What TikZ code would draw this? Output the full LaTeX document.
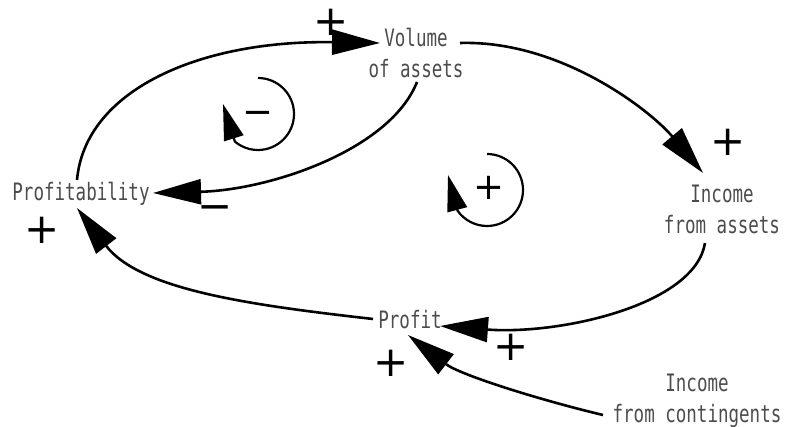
\documentclass[tikz,border=0pt]{standalone}
\usepackage{fontspec}
\usepackage{graphicx}
\usetikzlibrary{arrows.meta}
\newfontfamily\dotfont{DejaVu Sans Mono}
\newfontfamily\signfont{DejaVu Sans}
\newcommand\dottext[1]{\scalebox{0.73}[1]{\begin{tabular}{@{}c@{}}#1\end{tabular}}}
\begin{document}
\begin{tikzpicture}[x=1pt,y=-1pt,
  lbl/.style={inner sep=0pt,font=\dotfont\fontsize{24}{31}\selectfont,text=black!70},
  link/.style={line width=2.6pt,-{Triangle[length=48pt,width=25pt]}},
  loopline/.style={line width=2.2pt,-{Triangle[length=36pt,width=20pt]}},
  sgn/.style={inner sep=0pt,font=\signfont\fontsize{42}{42}\selectfont},
  lsgn/.style={inner sep=0pt,font=\signfont\fontsize{37}{37}\selectfont}]
\path[use as bounding box] (0,0) rectangle (785,427);
% variables
\node[lbl] (vol) at (416,56) {\dottext{Volume\\of assets}};
\node[lbl] (prof) at (81,194) {\dottext{Profitability}};
\node[lbl] (inc) at (722,212) {\dottext{Income\\from assets}};
\node[lbl] (profit) at (410,322) {\dottext{Profit}};
\node[lbl] (cont) at (697,401) {\dottext{Income\\from contingents}};
% links
\draw[link] ([shift={(-4,-14)}]prof.center) .. controls (85,90) and (200,40) .. ([shift={(-36,-13)}]vol.center);
\draw[link] ([shift={(1,26)}]vol.center) .. controls (390,150) and (270,190) .. ([shift={(72,-1)}]prof.center);
\draw[link] ([shift={(44,-13)}]vol.center) .. controls (560,40) and (650,110) .. ([shift={(-19,-39)}]inc.center);
\draw[link] ([shift={(-17,31)}]inc.center) .. controls (695,305) and (560,335) .. ([shift={(30,4)}]profit.center);
\draw[link] ([shift={(-37,-3)}]profit.center) .. controls (250,305) and (140,290) .. ([shift={(-4,14)}]prof.center);
\draw[link] ([shift={(-94,14)}]cont.center) .. controls (540,400) and (460,375) .. ([shift={(-2,13)}]profit.center);
% polarities
\node[sgn] (s1) at (331,22) {+};
\node[sgn] (s2) at (728,142) {+};
\node[sgn] (s3) at (42,230) {+};
\node[sgn] (s4) at (511,347) {+};
\node[sgn] (s5) at (391,363) {+};
\node[sgn,anchor=north] (s6) at (215,205) {−};
% loops
\draw[loopline] (258,78) arc[start angle=-90,end angle=130,radius=36] -- (223,104);
\node[lsgn,anchor=north] (lm) at (258,111) {−};
\draw[loopline] (487,154) arc[start angle=-90,end angle=145,radius=36] -- (448,175);
\node[lsgn] (lp) at (489,188) {+};
\end{tikzpicture}
\end{document}
